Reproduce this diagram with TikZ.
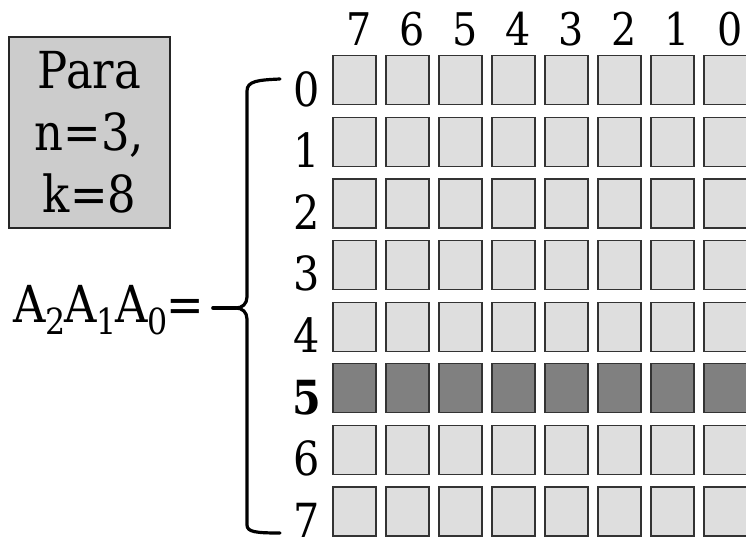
\documentclass[tikz,border=0pt]{standalone}
\usepackage{fontspec}
\setmainfont{DejaVu Serif}[FakeStretch=0.88]

\newcommand{\addrsub}[1]{\raisebox{-12pt}{\fontsize{36}{36}\selectfont #1}\kern-1.6pt}

\tikzset{
    cellbox/.style={draw=black!80,line width=1.2pt,fill=black!13,
        minimum width=43pt,minimum height=49pt,inner sep=0pt},
    selbox/.style={cellbox,fill=black!50},
}

\begin{document}
\begin{tikzpicture}[x=1pt,y=-1pt]
    \useasboundingbox (0,0) rectangle (746,538);

    % Parameters
    \node[draw=black!85,line width=1.2pt,fill=black!20,align=center,
        minimum width=161pt,minimum height=191pt,inner sep=0pt,
        font=\fontsize{51}{62}\selectfont] (params) at (89.5,132.5)
        {Para\\n=3,\\k=8};

    % Address
    \node[anchor=base west,inner sep=0pt,font=\fontsize{51}{51}\selectfont]
        (addr) at (13,322) {A\addrsub{2}A\addrsub{1}A\addrsub{0}=};

    % Brace
    \coordinate (tip) at (213,308);
    \draw[line width=3.2pt,line cap=round,line join=round]
        (280,79) .. controls (258,80) and (247,81) .. (247,91)
        -- (247,297) .. controls (247,304) and (242,308) .. (236,308)
        .. controls (242,308) and (247,312) .. (247,319)
        -- (247,525) .. controls (247,532) and (256,533) .. (280,533);
    \draw[line width=3.6pt,line cap=round] (236,308) -- (tip);

    % Column numbers
    \foreach \c in {0,...,7}
        \pgfmathtruncatemacro{\bit}{7-\c}
        \node[anchor=base,inner sep=0pt,font=\fontsize{45}{45}\selectfont]
            (col-\c) at ({359+53*\c},45) {\bit};

    % Words
    \foreach \r in {0,...,7} {
        \ifnum\r=5
            \node[anchor=base,inner sep=0pt,font=\fontsize{47}{47}\selectfont\bfseries]
                (row-\r) at (307,{106+61.6*\r}) {\r};
        \else
            \node[anchor=base,inner sep=0pt,font=\fontsize{47}{47}\selectfont]
                (row-\r) at (307,{106+61.6*\r}) {\r};
        \fi
        \foreach \c in {0,...,7} {
            \ifnum\r=5
                \node[selbox] (cell-\r-\c) at ({354.5+53*\c},{80.2+61.6*\r}) {};
            \else
                \node[cellbox] (cell-\r-\c) at ({354.5+53*\c},{80.2+61.6*\r}) {};
            \fi
        }
    }
\end{tikzpicture}
\end{document}
